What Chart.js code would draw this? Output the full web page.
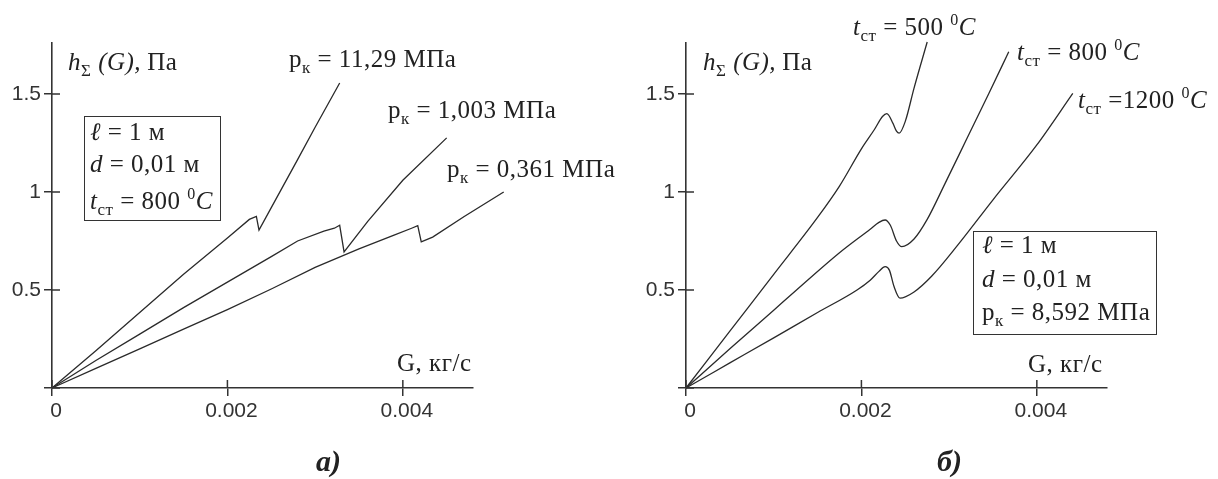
<!DOCTYPE html>
<html lang="ru">
<head>
<meta charset="UTF-8">
<title>h(G)</title>
<script src="https://cdn.jsdelivr.net/npm/chart.js"></script>
<style>
  body { margin:0; background:#fff; width:1218px; height:479px; position:relative; overflow:hidden; }
  canvas { position:absolute; top:0; }
  .lbl { position:absolute; font-family:"Liberation Serif", serif; font-size:25px; line-height:25px; letter-spacing:0.5px; color:#222; white-space:nowrap; }
  .sb { position:relative; top:6px; font-size:17px; }
  .sp { position:relative; top:-10px; font-size:16px; }
  .gap { margin-left:6px; }
  .box { position:absolute; border:1.5px solid #333; }
  .cap { font-weight:bold; font-style:italic; font-size:30px; line-height:30px; letter-spacing:0; }
</style>
</head>
<body>
<canvas id="chartA" width="609" height="479" style="left:0"></canvas>
<canvas id="chartB" width="609" height="479" style="left:609px"></canvas>
<script>
// axis ticks (shared by both panels)
const xTicks = [0, 0.002, 0.004];
const xTickLabels = ['0', '0.002', '0.004'];
const yTicks = [0, 0.5, 1, 1.5];
const yTickLabels = ['', '0.5', '1', '1.5'];

// panel а): t_ст = 800 C, different p_к
const gA1 = [0, 0.0005, 0.001, 0.0015, 0.002, 0.00225, 0.00233, 0.00236, 0.0025, 0.0028, 0.003, 0.00328];
const hA1 = [0, 0.19, 0.385, 0.58, 0.765, 0.86, 0.875, 0.806, 0.92, 1.165, 1.33, 1.556];
const gA2 = [0, 0.0005, 0.001, 0.0015, 0.002, 0.0025, 0.0028, 0.0031, 0.00322, 0.00328, 0.00333, 0.0036, 0.004, 0.0045];
const hA2 = [0, 0.14, 0.275, 0.41, 0.54, 0.67, 0.75, 0.8, 0.815, 0.83, 0.694, 0.85, 1.06, 1.276];
const gA3 = [0, 0.0005, 0.001, 0.0015, 0.002, 0.0025, 0.003, 0.0035, 0.0039, 0.0041, 0.00417, 0.00421, 0.00434, 0.0047, 0.00515];
const hA3 = [0, 0.1, 0.2, 0.3, 0.4, 0.505, 0.615, 0.71, 0.78, 0.815, 0.828, 0.745, 0.77, 0.875, 1.0];
const pLabels = ['11,29', '1,003', '0,361'];

// panel б): p_к = 8,592 MPa, different t_ст
const gB1 = [0, 0.0005, 0.001, 0.0015, 0.00175, 0.002, 0.00215, 0.00224, 0.00229, 0.00236, 0.0024, 0.00243, 0.0025, 0.0026, 0.00275];
const hB1 = [0, 0.29, 0.58, 0.87, 1.03, 1.22, 1.32, 1.385, 1.4, 1.35, 1.31, 1.3, 1.36, 1.53, 1.765];
const gB2 = [0, 0.0005, 0.001, 0.00126, 0.00175, 0.0021, 0.0022, 0.00227, 0.00233, 0.0024, 0.00246, 0.0026, 0.00275, 0.00295, 0.0032, 0.00345, 0.00368];
const hB2 = [0, 0.2, 0.397, 0.5, 0.69, 0.81, 0.845, 0.857, 0.83, 0.75, 0.721, 0.76, 0.86, 1.04, 1.27, 1.5, 1.715];
const gB3 = [0, 0.0005, 0.001, 0.0015, 0.00195, 0.0021, 0.0022, 0.00227, 0.00232, 0.00237, 0.00244, 0.0026, 0.0028, 0.0031, 0.0035, 0.004, 0.00441];
const hB3 = [0, 0.128, 0.256, 0.385, 0.5, 0.55, 0.595, 0.619, 0.6, 0.52, 0.458, 0.49, 0.57, 0.73, 0.96, 1.24, 1.503];
const tLabels = ['500', '800', '=1200'];

const INK = '#333';
const LINE = '#2a2a2a';

// ticks in Mathcad style cross the axis: draw the inner half
const crossTicks = {
  id: 'crossTicks',
  afterDraw(chart) {
    const { ctx, scales: { x, y } } = chart;
    ctx.save();
    ctx.strokeStyle = INK;
    ctx.lineWidth = 1.5;
    ctx.beginPath();
    x.ticks.forEach(t => { const px = x.getPixelForValue(t.value); ctx.moveTo(px, y.bottom); ctx.lineTo(px, y.bottom - 8); });
    y.ticks.forEach(t => { const py = y.getPixelForValue(t.value); ctx.moveTo(x.left, py); ctx.lineTo(x.left + 8, py); });
    ctx.stroke();
    ctx.restore();
  }
};

function makeChart(id, gs, hs, axisW, padRight, smooth) {
  return new Chart(document.getElementById(id), {
    type: 'scatter',
    data: {
      datasets: gs.map((g, k) => ({
        data: g.map((v, i) => ({ x: v, y: hs[k][i] })),
        showLine: true,
        borderColor: LINE,
        borderWidth: 1.3,
        pointRadius: 0,
        clip: false,
        cubicInterpolationMode: smooth ? 'monotone' : 'default',
        tension: 0
      }))
    },
    options: {
      responsive: false,
      animation: false,
      devicePixelRatio: 1,
      layout: { padding: { top: 43, right: padRight, bottom: 0, left: 0 } },
      plugins: { legend: { display: false }, tooltip: { enabled: false } },
      scales: {
        x: {
          type: 'linear', min: 0, max: 0.0048,
          afterFit: s => { s.height = 91; },
          afterBuildTicks: s => { s.ticks = xTicks.map(v => ({ value: v })); },
          ticks: { callback: (v, i) => xTickLabels[i], color: INK, padding: 3, labelOffset: 4, maxRotation: 0,
                   font: { family: 'Liberation Sans', size: 21 } },
          grid: { drawOnChartArea: false, drawTicks: true, tickLength: 8, color: INK, lineWidth: 1.5 },
          border: { display: true, color: INK, width: 1.6 }
        },
        y: {
          type: 'linear', min: 0, max: 1.76,
          afterFit: s => { s.width = axisW; },
          afterBuildTicks: s => { s.ticks = yTicks.map(v => ({ value: v })); },
          ticks: { callback: (v, i) => yTickLabels[i], color: INK, padding: 3,
                   font: { family: 'Liberation Sans', size: 21 } },
          grid: { drawOnChartArea: false, drawTicks: true, tickLength: 8, color: INK, lineWidth: 1.5 },
          border: { display: true, color: INK, width: 1.6 }
        }
      }
    },
    plugins: [crossTicks]
  });
}

makeChart('chartA', [gA1, gA2, gA3], [hA1, hA2, hA3], 52, 136, false);
makeChart('chartB', [gB1, gB2, gB3], [hB1, hB2, hB3], 77, 111, true);

// text annotations, placed by baseline
function label(x, base, html, cls) {
  const d = document.createElement('div');
  d.className = 'lbl' + (cls ? ' ' + cls : '');
  d.innerHTML = html;
  const size = cls === 'cap' ? 30 : 25;
  d.style.left = x + 'px';
  d.style.top = (base - 0.8375 * size) + 'px';
  document.body.appendChild(d);
}
function box(x, y, w, h) {
  const d = document.createElement('div');
  d.className = 'box';
  Object.assign(d.style, { left: x + 'px', top: y + 'px', width: w + 'px', height: h + 'px' });
  document.body.appendChild(d);
}
const hName = '<i>h</i><span class="sb">Σ</span> <i>(G),</i><span class="gap">Па</span>';
const pName = v => 'p<span class="sb">к</span> = ' + v + ' МПа';
const tName = v => '<i>t</i><span class="sb">ст</span> ' + (v[0] === '=' ? v : '= ' + v) + ' <span class="sp">0</span><i>C</i>';

// panel а)
label(68, 70, hName);
label(289, 67, pName(pLabels[0]));
label(388, 118, pName(pLabels[1]));
label(447, 177, pName(pLabels[2]));
box(84, 116, 135, 103);
label(90, 140, '<i>ℓ</i> = 1 м');
label(90, 172, '<i>d</i> = 0,01 м');
label(90, 209, tName('800'));
label(397, 371, 'G, кг/с');
label(316, 471, 'а)', 'cap');

// panel б)
label(703, 70, hName);
label(853, 35, tName(tLabels[0]));
label(1017, 60, tName(tLabels[1]));
label(1078, 108, tName(tLabels[2]));
box(973, 231, 182, 102);
label(982, 253, '<i>ℓ</i> = 1 м');
label(982, 287, '<i>d</i> = 0,01 м');
label(982, 320, pName('8,592'));
label(1028, 372, 'G, кг/с');
label(937, 471, 'б)', 'cap');
</script>
</body>
</html>
